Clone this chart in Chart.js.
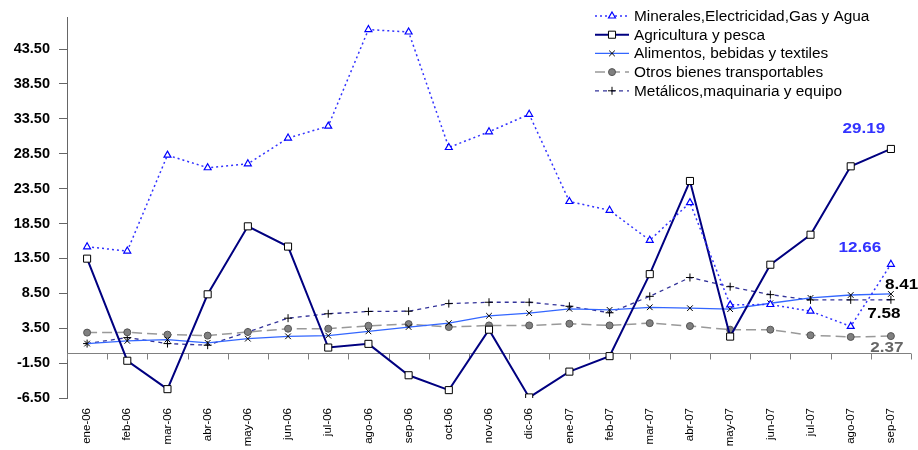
<!DOCTYPE html>
<html>
<head>
<meta charset="utf-8">
<script src="https://cdn.jsdelivr.net/npm/chart.js@4.4.0/dist/chart.umd.min.js"></script>
<style>
  body { margin: 0; background: #fff; }
  #wrap { width: 918px; height: 450px; position: relative; }
</style>
</head>
<body>
<div id="wrap"><canvas id="myChart"></canvas></div>
<script>
var months = ['ene-06','feb-06','mar-06','abr-06','may-06','jun-06','jul-06','ago-06','sep-06','oct-06','nov-06','dic-06',
              'ene-07','feb-07','mar-07','abr-07','may-07','jun-07','jul-07','ago-07','sep-07'];
var minerales  = [15.17,14.56,28.30,26.50,27.06,30.75,32.46,46.30,45.95,29.40,31.65,34.16,21.66,20.40,16.10,21.50,6.85,6.90,5.94,3.76,12.66];
var agricultura = [13.47,-1.16,-5.23,8.36,18.10,15.20,0.73,1.26,-3.24,-5.37,3.29,-6.42,-2.72,-0.50,11.25,24.60,2.30,12.60,16.90,26.70,29.19];
var alimentos  = [1.30,1.68,1.87,1.40,2.00,2.34,2.44,3.05,3.67,4.23,5.28,5.66,6.28,6.13,6.50,6.37,6.23,7.08,7.84,8.26,8.41];
var otros      = [2.87,2.91,2.58,2.44,2.96,3.43,3.43,3.85,4.09,3.67,3.90,3.90,4.14,3.90,4.23,3.81,3.29,3.29,2.49,2.25,2.37];
var metalicos  = [1.30,2.16,1.30,1.07,2.96,4.94,5.57,5.90,5.94,7.03,7.22,7.22,6.65,5.71,8.07,10.77,9.45,8.31,7.56,7.56,7.58];
var yTicks = [-6.5,-1.5,3.5,8.5,13.5,18.5,23.5,28.5,33.5,38.5,43.5];

var FONT = '"Liberation Sans", Arial, sans-serif';

// text a bit wider than the font, like the stretched original
function wideText(c, txt, x, y, align, sx) {
    c.save();
    c.translate(x, y);
    c.scale(sx, 1);
    c.textAlign = align;
    c.fillText(txt, 0, 0);
    c.restore();
}

// extra drawing: zero line with category ticks, legend inside plot, end labels
var extras = {
    id: 'extras',
    beforeDatasetsDraw: function(chart) {
        var c = chart.ctx, xs = chart.scales.x, ys = chart.scales.y, a = chart.chartArea;
        var y0 = Math.round(ys.getPixelForValue(0)) + 0.5;
        var half = (xs.getPixelForValue(1) - xs.getPixelForValue(0)) / 2;
        c.save();
        c.strokeStyle = '#808080';
        c.lineWidth = 1;
        c.beginPath();
        c.moveTo(a.left, y0);
        c.lineTo(a.right, y0);
        for (var i = 0; i <= months.length; i++) {
            var px = Math.round(xs.getPixelForValue(i) - half) + 0.5;
            c.moveTo(px, y0);
            c.lineTo(px, y0 + 6);
        }
        c.stroke();
        c.restore();
    },
    afterDatasetsDraw: function(chart) {
        var c = chart.ctx;
        var lbls = [
            {ds: 1, color: '#3333ff', dx: -27, dy: -20, align: 'center'},
            {ds: 0, color: '#3333ff', dx: -31, dy: -16, align: 'center'},
            {ds: 2, color: '#000000', dx: -6, dy: -9, align: 'left'},
            {ds: 4, color: '#000000', dx: -7, dy: 14, align: 'center'},
            {ds: 3, color: '#666666', dx: -4, dy: 12, align: 'center'}
        ];
        c.save();
        c.font = 'bold 14px ' + FONT;
        c.textBaseline = 'middle';
        lbls.forEach(function(l) {
            var data = chart.data.datasets[l.ds].data;
            var pt = chart.getDatasetMeta(l.ds).data[data.length - 1];
            c.fillStyle = l.color;
            wideText(c, data[data.length - 1].toFixed(2), pt.x + l.dx, pt.y + l.dy, l.align, 1.22);
        });
        c.restore();
    },
    afterDraw: function(chart) {
        var c = chart.ctx;
        var x0 = 595, x1 = 629, tx = 634, y = 16, step = 18.7;
        c.save();
        chart.data.datasets.forEach(function(ds) {
            c.strokeStyle = ds.borderColor;
            c.lineWidth = ds.borderWidth;
            c.setLineDash(ds.borderDash || []);
            c.beginPath();
            c.moveTo(x0, y);
            c.lineTo(x1, y);
            c.stroke();
            c.setLineDash([]);
            c.fillStyle = ds.pointBackgroundColor;
            c.strokeStyle = ds.pointBorderColor;
            c.lineWidth = ds.pointBorderWidth;
            Chart.helpers.drawPoint(c, {pointStyle: ds.pointStyle, radius: ds.pointRadius, rotation: 0, borderWidth: ds.pointBorderWidth}, (x0 + x1) / 2, y);
            c.fillStyle = '#000';
            c.font = '14px ' + FONT;
            c.textBaseline = 'middle';
            wideText(c, ds.label, tx, y + 1, 'left', 1.1);
            y += step;
        });
        c.restore();
    }
};

var ctx = document.getElementById('myChart').getContext('2d');
var myChart = new Chart(ctx, {
    type: 'line',
    data: {
        labels: months,
        datasets: [{
            label: 'Minerales,Electricidad,Gas y Agua',
            data: minerales,
            borderColor: '#3333ff',
            borderWidth: 1.5,
            borderDash: [2, 3],
            pointStyle: 'triangle',
            pointRadius: 4,
            pointBackgroundColor: '#ffffff',
            pointBorderColor: '#0000ff',
            pointBorderWidth: 1.2,
            tension: 0
        }, {
            label: 'Agricultura y pesca',
            data: agricultura,
            borderColor: '#000080',
            borderWidth: 2,
            pointStyle: 'rect',
            pointRadius: 5,
            pointBackgroundColor: '#ffffff',
            pointBorderColor: '#000000',
            pointBorderWidth: 1,
            tension: 0
        }, {
            label: 'Alimentos, bebidas y textiles',
            data: alimentos,
            borderColor: '#3366ff',
            borderWidth: 1.3,
            pointStyle: 'crossRot',
            pointRadius: 4,
            pointBackgroundColor: '#000000',
            pointBorderColor: '#000000',
            pointBorderWidth: 1,
            tension: 0
        }, {
            label: 'Otros bienes transportables',
            data: otros,
            borderColor: '#999999',
            borderWidth: 1.5,
            borderDash: [10, 5],
            pointStyle: 'circle',
            pointRadius: 3.5,
            pointBackgroundColor: '#808080',
            pointBorderColor: '#555555',
            pointBorderWidth: 1,
            tension: 0
        }, {
            label: 'Metálicos,maquinaria y equipo',
            data: metalicos,
            borderColor: '#333399',
            borderWidth: 1.3,
            borderDash: [4, 4],
            pointStyle: 'cross',
            pointRadius: 4,
            pointBackgroundColor: '#000000',
            pointBorderColor: '#000000',
            pointBorderWidth: 1,
            tension: 0
        }]
    },
    options: {
        responsive: true,
        maintainAspectRatio: false,
        animation: false,
        layout: { padding: { top: 11, right: 7, left: 0, bottom: 0 } },
        plugins: {
            legend: { display: false },
            tooltip: { enabled: false }
        },
        scales: {
            x: {
                offset: true,
                grid: { display: false, drawTicks: false },
                border: { display: false },
                ticks: {
                    minRotation: 90,
                    maxRotation: 90,
                    padding: 10,
                    color: '#000',
                    font: { family: FONT, size: 11.5 }
                },
                afterFit: function(s) { s.height = 52; }
            },
            y: {
                min: -6.5,
                max: 48,
                afterBuildTicks: function(s) {
                    s.ticks = yTicks.map(function(v) { return {value: v}; });
                },
                grid: { drawOnChartArea: false, tickLength: 8, color: '#666666' },
                border: { display: true, color: '#666666', width: 1 },
                ticks: {
                    padding: 9,
                    color: '#000',
                    font: { family: FONT, size: 14.5, weight: 'bold' },
                    callback: function(v) { return Number(v).toFixed(2); }
                },
                afterFit: function(s) { s.width = 67; }
            }
        }
    },
    plugins: [extras]
});
</script>
</body>
</html>
